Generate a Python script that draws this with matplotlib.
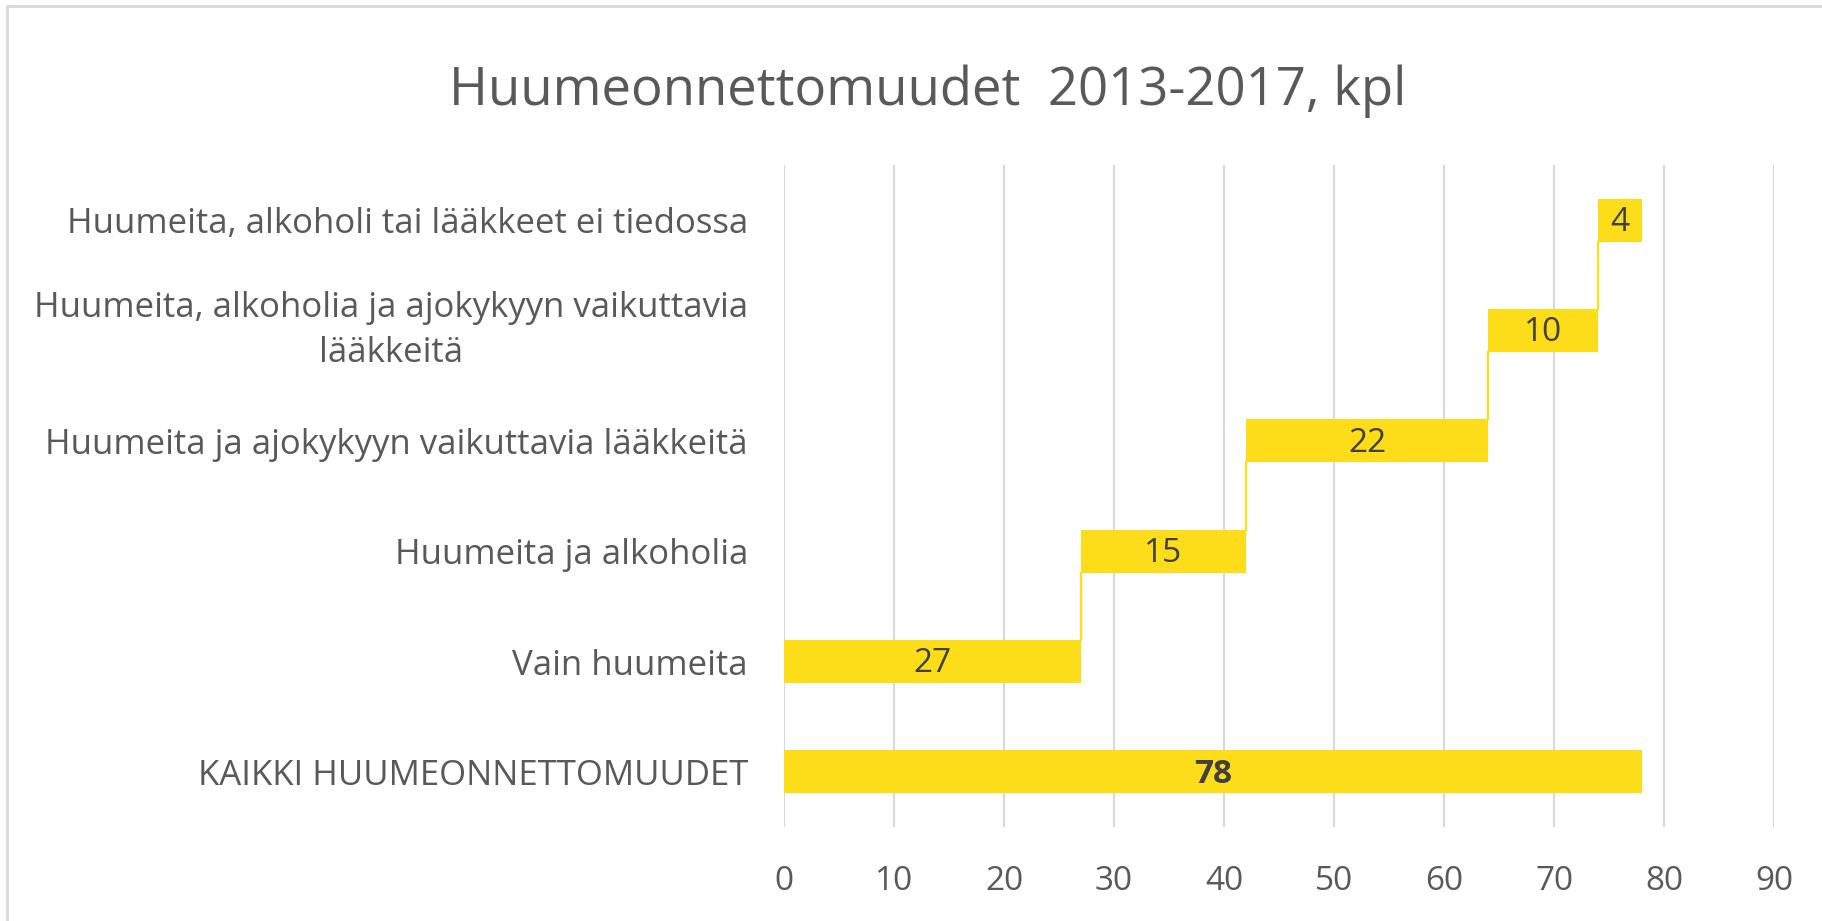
import numpy as np
import matplotlib
matplotlib.use("Agg")
import matplotlib.pyplot as plt
from matplotlib.patches import Rectangle

plt.rcParams['font.family'] = ['Open Sans', 'DejaVu Sans']

# data, bottom to top
categories = [
    'KAIKKI HUUMEONNETTOMUUDET',
    'Vain huumeita',
    'Huumeita ja alkoholia',
    'Huumeita ja ajokykyyn vaikuttavia lääkkeitä',
    'Huumeita, alkoholia ja ajokykyyn vaikuttavia\nlääkkeitä',
    'Huumeita, alkoholi tai lääkkeet ei tiedossa',
]
total = 78
parts = [27, 15, 22, 10, 4]

values = [total] + parts
starts = [0] + list(np.cumsum([0] + parts[:-1]))

yellow = '#FDDC19'
grid_col = '#D9D9D9'
text_col = '#595959'
label_col = '#404040'

fig = plt.figure(figsize=(18.22, 9.21), dpi=100)
ax = fig.add_axes([0.4303, 0.1020, 0.5434, 0.7188])

y = np.arange(len(categories))
h = 0.39
ax.barh(y, values, left=starts, height=h, color=yellow, zorder=3)

# connector lines between the steps
for i in range(2, len(categories)):
    ax.plot([starts[i], starts[i]], [y[i] - h / 2, y[i - 1] + h / 2],
            color=yellow, lw=1.6, zorder=3)

for i, (s, v) in enumerate(zip(starts, values)):
    ax.text(s + v / 2, y[i] - 0.02, str(v), ha='center', va='center',
            fontsize=24, color=label_col, zorder=4,
            fontweight='bold' if i == 0 else 'normal')

ax.set_xlim(0, 90)
ax.set_ylim(-0.5, len(categories) - 0.5)
ax.set_xticks(range(0, 91, 10))
ax.set_yticks(y)
ax.set_yticklabels(categories)
for lab in ax.get_yticklabels():
    if '\n' in lab.get_text():
        lab.set_multialignment('center')
        lab.set_linespacing(1.4)
        lab.set_verticalalignment('center')
ax.tick_params(axis='both', length=0, labelcolor=text_col)
ax.tick_params(axis='y', pad=26, labelsize=25)
ax.tick_params(axis='x', pad=27, labelsize=24)
ax.grid(axis='x', color=grid_col, lw=1.5, zorder=0)
for sp in ax.spines.values():
    sp.set_visible(False)

fig.text(0.509, 0.8865, 'Huumeonnettomuudet  2013-2017, kpl', ha='center',
         va='baseline', fontsize=38, color=text_col)

fig.patches.append(Rectangle((7 / 1822, -0.1), 1.2, 1.1 - 6 / 921,
                             transform=fig.transFigure, fill=False,
                             ec=grid_col, lw=2))

fig.savefig('out.png', dpi=100)
